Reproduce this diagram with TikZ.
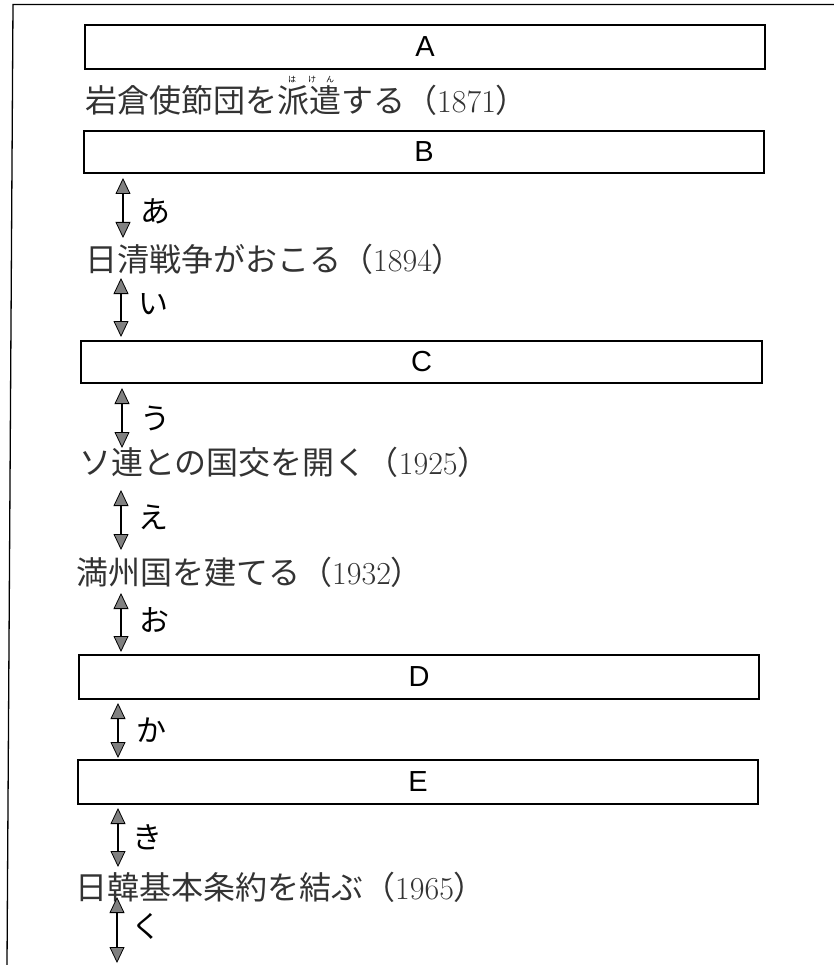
\documentclass[tikz,border=0pt]{standalone}
\usepackage{fontspec}
\newfontfamily\jp{Noto Sans CJK JP}
\newfontfamily\lat{Liberation Sans}
\usetikzlibrary{arrows.meta}
\begin{document}
\begin{tikzpicture}[x=1pt,y=-1pt,
  box/.style={draw, line width=1.2pt, inner sep=0pt, font=\lat\fontsize{29}{30}\selectfont},
  event/.style={anchor=west, inner sep=0pt, text=black!80, font=\fontsize{32}{34}\selectfont},
  lbl/.style={anchor=west, inner sep=0pt, font=\jp\fontsize{30}{32}\selectfont},
  dbl/.style={line width=1.4pt, {Triangle[width=15pt,length=16pt,fill=black!50,line width=0.8pt]}-{Triangle[width=15pt,length=16pt,fill=black!50,line width=0.8pt]}},
  ruby/.style={inner sep=0pt, font=\jp\fontsize{8}{8}\selectfont}
]
\useasboundingbox (0,0) rectangle (834,965);
% outer frame (top and left)
\draw[line width=1.3pt] (7,965) -- (13,4.5) -- (834,4.5);

% boxes
\node[box, minimum width=680pt, minimum height=44pt] (A) at (425,47) {A};
\node[box, minimum width=680pt, minimum height=42pt] (B) at (424,152) {B};
\node[box, minimum width=681pt, minimum height=42pt] (C) at (421.5,362) {C};
\node[box, minimum width=680pt, minimum height=44pt] (D) at (419,677) {D};
\node[box, minimum width=680pt, minimum height=44pt] (E) at (418,782) {E};

% events
\node[event] (e1) at (85,100) {{\jp 岩倉使節団を派遣する（}1871{\jp ）}};
\node[ruby] (r1) at (311,80) {は\hspace{12pt}け\hspace{10pt}ん};
\node[event] (e2) at (85,259) {{\jp 日清戦争がおこる（}1894{\jp ）}};
\node[event] (e3) at (79,462) {{\jp ソ連との国交を開く（}1925{\jp ）}};
\node[event] (e4) at (76,572) {{\jp 満州国を建てる（}1932{\jp ）}};
\node[event] (e5) at (75,887) {{\jp 日韓基本条約を結ぶ（}1965{\jp ）}};

% arrow end points
\coordinate (a1) at (123,178); \coordinate (a2) at (123,238);
\coordinate (b1) at (121,278); \coordinate (b2) at (121,337);
\coordinate (c1) at (122,388); \coordinate (c2) at (122,448);
\coordinate (d1) at (121,490); \coordinate (d2) at (121,550);
\coordinate (f1) at (121,593); \coordinate (f2) at (121,652);
\coordinate (g1) at (118,703); \coordinate (g2) at (118,758);
\coordinate (h1) at (118,808); \coordinate (h2) at (118,867);
\coordinate (k1) at (117,897); \coordinate (k2) at (117,963);

\draw[dbl] (a1) -- (a2) node[lbl, pos=0.55, xshift=17pt] (la) {あ};
\draw[dbl] (b1) -- (b2) node[lbl, pos=0.45, xshift=17pt] (lb) {い};
\draw[dbl] (c1) -- (c2) node[lbl, pos=0.5, xshift=18pt] (lc) {う};
\draw[dbl] (d1) -- (d2) node[lbl, pos=0.45, xshift=17pt] (ld) {え};
\draw[dbl] (f1) -- (f2) node[lbl, pos=0.45, xshift=18pt] (lf) {お};
\draw[dbl] (g1) -- (g2) node[lbl, pos=0.5, xshift=18pt] (lg) {か};
\draw[dbl] (h1) -- (h2) node[lbl, pos=0.5, xshift=14pt] (lh) {き};
\draw[dbl] (k1) -- (k2) node[lbl, pos=0.45, xshift=14pt] (lk) {く};
\end{tikzpicture}
\end{document}
